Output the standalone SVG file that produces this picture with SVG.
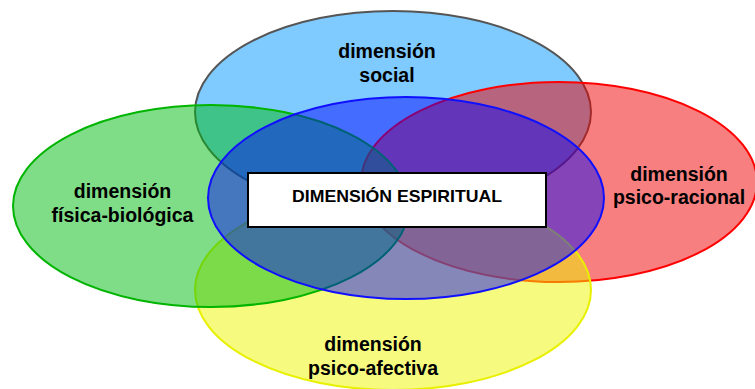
<svg xmlns="http://www.w3.org/2000/svg" width="755" height="389" viewBox="0 0 755 389">
  <style>
    .lbl { font-family: "Liberation Sans", Arial, sans-serif; font-weight: bold; font-size: 19.5px; fill: #000; text-anchor: middle; }
    .main { font-family: "Liberation Sans", Arial, sans-serif; font-weight: bold; font-size: 17px; fill: #000; text-anchor: middle; }
    .ell { stroke-width: 2; fill-opacity: 0.5; }
  </style>
  <rect width="755" height="389" fill="#ffffff"/>
  <g id="social">
    <ellipse class="ell" cx="393" cy="112" rx="198" ry="101" fill="#0096FF" stroke="#555555"/>
    <text class="lbl" x="387" y="58">dimensión</text>
    <text class="lbl" x="387" y="82">social</text>
  </g>
  <g id="psico-racional">
    <ellipse class="ell" cx="559" cy="182" rx="198" ry="100" fill="#F00000" stroke="#FF0000"/>
    <text class="lbl" x="679" y="181">dimensión</text>
    <text class="lbl" x="679" y="204">psico-racional</text>
  </g>
  <g id="psico-afectiva">
    <ellipse class="ell" cx="393" cy="290" rx="198" ry="100" fill="#EDF500" stroke="#E8F000"/>
    <text class="lbl" x="373" y="351">dimensión</text>
    <text class="lbl" x="373" y="375">psico-afectiva</text>
  </g>
  <g id="fisica-biologica">
    <ellipse class="ell" cx="211" cy="206" rx="198" ry="101" fill="#00BB11" stroke="#00B400"/>
    <text class="lbl" x="122.5" y="198">dimensión</text>
    <text class="lbl" x="122.5" y="222">física-biológica</text>
  </g>
  <g id="espiritual">
    <ellipse cx="406" cy="198" rx="198" ry="101" fill="#0000FF" fill-opacity="0.46" stroke="#1010FF" stroke-width="2"/>
    <rect x="248" y="173" width="298" height="54" fill="#ffffff" stroke="#000000" stroke-width="2"/>
    <text class="main" x="397" y="202" textLength="210" lengthAdjust="spacingAndGlyphs">DIMENSIÓN ESPIRITUAL</text>
  </g>
  <g id="connectors"></g>
</svg>
